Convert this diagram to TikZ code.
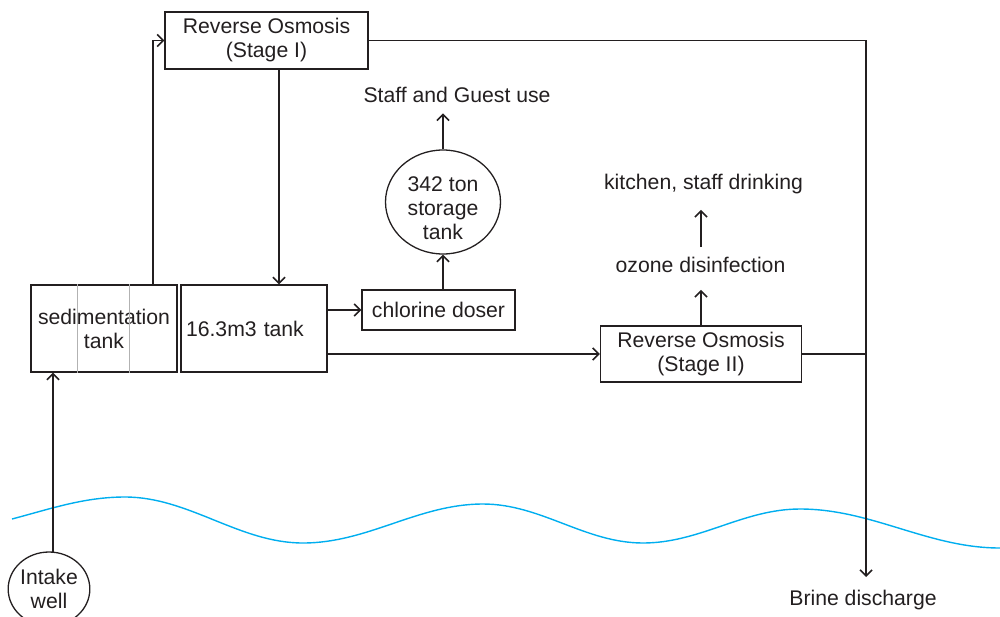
\documentclass[tikz,border=0pt]{standalone}
\usepackage{fontspec}
\setmainfont{Liberation Sans}
\usetikzlibrary{arrows.meta,shapes.geometric}
\definecolor{ink}{HTML}{231F20}
\definecolor{sea}{HTML}{00AEEF}
\begin{document}
\begin{tikzpicture}[x=1pt,y=-1pt,
  font=\fontsize{21.2}{24}\selectfont, text=ink,
  box/.style={draw=ink, line width=1.3pt, inner sep=0pt, align=center},
  tankshape/.style={draw=ink, line width=1.3pt, ellipse, inner sep=0pt, align=center},
  lbl/.style={inner sep=0pt, text height=15pt, text depth=4.5pt},
  arr/.style={draw=ink, line width=1.8pt, -{Straight Barb[length=6pt,width=12pt,line width=1.6pt]}},
  ln/.style={draw=ink, line width=1.8pt},
  divider/.style={draw=black!30, line width=0.9pt}]
\useasboundingbox (0,0) rectangle (1000,616);

% water surface
\draw[sea, line width=1.4pt] (12,519) .. controls (50,509) and (84,497) .. (125,497)
  .. controls (189,497) and (239,543) .. (303,543)
  .. controls (368,543) and (418,504) .. (483,504)
  .. controls (541,504) and (585,543) .. (643,543)
  .. controls (700,543) and (743,509) .. (800,509)
  .. controls (872,509) and (928,548) .. (1000,548);

% nodes
\node[box, minimum width=203pt, minimum height=57pt] (ro1) at (266.5,40.5) {Reverse Osmosis\\(Stage I)};
\node[box, minimum width=146pt, minimum height=87pt] (sed) at (104,328.5) {sedimentation\\tank};
\draw[divider] ([xshift=47pt]sed.north west) -- ([xshift=47pt]sed.south west);
\draw[divider] ([xshift=99pt]sed.north west) -- ([xshift=99pt]sed.south west);
\node[box, minimum height=87pt, text width=136pt, inner xsep=5pt, align=left] (tank) at (254,328.5) {16.3m3 tank};
\node[box, minimum width=153pt, minimum height=40pt] (doser) at (438.5,310) {chlorine doser};
\node[tankshape, minimum width=115pt, minimum height=104pt] (stor) at (443,202) {};
\node[align=center, inner sep=0pt] (stortxt) at (443,208) {342 ton\\storage\\tank};
\node[box, minimum width=201pt, minimum height=56pt] (ro2) at (701,354) {Reverse Osmosis\\(Stage II)};
\node[lbl] (ozone) at (700.5,267) {ozone disinfection};
\node[lbl] (kitchen) at (703.5,184) {kitchen, staff drinking};
\node[lbl] (staff) at (457,97) {Staff and Guest use};
\node[lbl] (brine) at (863,600) {Brine discharge};
\node[tankshape, minimum width=80pt, minimum height=74pt] (well) at (49,589) {Intake\\well};

% connectors
\coordinate (sedup) at (153,285);
\draw[arr] (sedup) |- (ro1.west);
\coordinate (rodn) at (279,69);
\draw[arr] (rodn) -- (rodn |- tank.north);
\draw[arr] (doser.west -| tank.east) -- (doser.west);
\draw[arr] (ro2.west -| tank.east) -- (ro2.west);
\draw[arr] (doser.north -| stor.south) -- (stor.south);
\draw[arr, shorten >=6.5pt] (stor.north) -- (stor.north |- staff.south);
\draw[arr, shorten >=13pt] (ro2.north) -- (ro2.north |- ozone.south);
\coordinate (ozup) at (701,247);
\draw[arr, shorten >=16pt] (ozup) -- (ozup |- kitchen.south);
\coordinate (bend) at (866,577);
\draw[arr] (ro1.east) -| (bend);
\draw[ln] (ro2.east) -- (ro2.east -| bend);
\coordinate (wtop) at (53,553);
\draw[arr] (wtop) -- (wtop |- sed.south);
\end{tikzpicture}
\end{document}
